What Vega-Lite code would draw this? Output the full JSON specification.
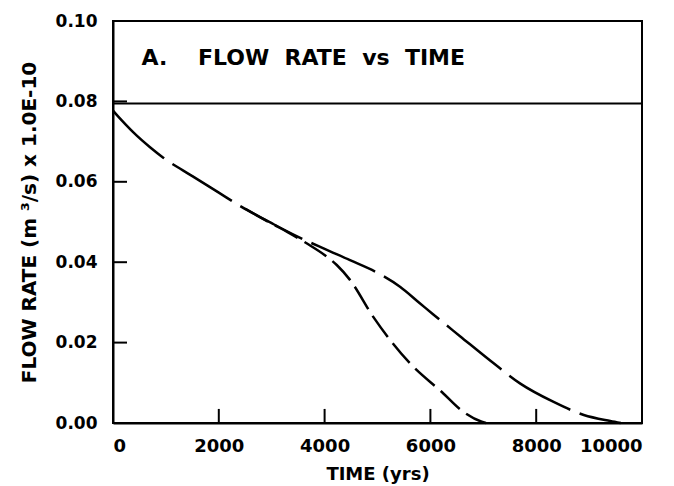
{
  "$schema": "https://vega.github.io/schema/vega-lite/v6.json",
  "autosize": "none",
  "width": 529,
  "height": 402,
  "padding": {"left": 113, "top": 21, "right": 32, "bottom": 63},
  "background": "white",
  "config": {
    "view": {"stroke": "black", "strokeWidth": 2},
    "font": "DejaVu Sans",
    "axis": {
      "domainColor": "black", "domainWidth": 2,
      "ticks": false,
      "labelColor": "black", "labelFont": "DejaVu Sans", "labelFontWeight": "bold",
      "titleColor": "black", "titleFont": "DejaVu Sans", "titleFontWeight": "bold",
      "grid": false
    }
  },
  "datasets": {
    "curves": [
      {"t": 0, "q": 0.0777, "case": "upper"},
      {"t": 100, "q": 0.0762, "case": "upper"},
      {"t": 250, "q": 0.0741, "case": "upper"},
      {"t": 400, "q": 0.0721, "case": "upper"},
      {"t": 700, "q": 0.0686, "case": "upper"},
      {"t": 950, "q": 0.0660, "case": "upper"},
      {"t": 1500, "q": 0.0614, "case": "upper"},
      {"t": 2000, "q": 0.0573, "case": "upper"},
      {"t": 2400, "q": 0.0540, "case": "upper"},
      {"t": 3000, "q": 0.0497, "case": "upper"},
      {"t": 3470, "q": 0.0465, "case": "upper"},
      {"t": 4000, "q": 0.0433, "case": "upper"},
      {"t": 4480, "q": 0.0405, "case": "upper"},
      {"t": 5050, "q": 0.0370, "case": "upper"},
      {"t": 5425, "q": 0.0339, "case": "upper"},
      {"t": 5800, "q": 0.0298, "case": "upper"},
      {"t": 6055, "q": 0.0270, "case": "upper"},
      {"t": 6560, "q": 0.0216, "case": "upper"},
      {"t": 7190, "q": 0.0149, "case": "upper"},
      {"t": 7700, "q": 0.0098, "case": "upper"},
      {"t": 8320, "q": 0.0053, "case": "upper"},
      {"t": 8900, "q": 0.0020, "case": "upper"},
      {"t": 9400, "q": 0.0005, "case": "upper"},
      {"t": 9600, "q": 0.0, "case": "upper"},
      {"t": 2500, "q": 0.0533, "case": "lower"},
      {"t": 3000, "q": 0.0496, "case": "lower"},
      {"t": 3300, "q": 0.0475, "case": "lower"},
      {"t": 3660, "q": 0.0447, "case": "lower"},
      {"t": 4040, "q": 0.0414, "case": "lower"},
      {"t": 4230, "q": 0.0393, "case": "lower"},
      {"t": 4480, "q": 0.0356, "case": "lower"},
      {"t": 4920, "q": 0.0264, "case": "lower"},
      {"t": 5610, "q": 0.0149, "case": "lower"},
      {"t": 6240, "q": 0.0074, "case": "lower"},
      {"t": 6600, "q": 0.0030, "case": "lower"},
      {"t": 6970, "q": 0.0003, "case": "lower"},
      {"t": 7050, "q": 0.0, "case": "lower"}
    ],
    "limit": [{"q": 0.0795}],
    "yticks": [{"q": 0.02, "t0": 0, "t1": 265}, {"q": 0.04, "t0": 0, "t1": 265}, {"q": 0.06, "t0": 0, "t1": 265}, {"q": 0.08, "t0": 0, "t1": 265}],
    "xticks": [{"t": 2000, "q0": 0, "q1": 0.0035}, {"t": 4000, "q0": 0, "q1": 0.0035}, {"t": 6000, "q0": 0, "q1": 0.0035}, {"t": 8000, "q0": 0, "q1": 0.0035}],
    "label": [{"t": 540, "q": 0.0908, "text": "A.\u00a0\u00a0\u00a0 FLOW\u00a0 RATE\u00a0 vs\u00a0 TIME"}]
  },
  "layer": [
    {
      "data": {"name": "curves"},
      "transform": [{"filter": "datum.case === 'upper'"}],
      "mark": {"type": "line", "color": "black", "strokeWidth": 2.5, "strokeDash": [70, 10], "interpolate": "monotone"},
      "encoding": {
        "x": {"field": "t", "type": "quantitative",
          "scale": {"domain": [0, 10000], "nice": false},
          "axis": {"title": "TIME (yrs)", "values": [0, 2000, 4000, 6000, 8000, 10000], "format": "d",
            "labelFontSize": 18, "labelPadding": 14, "titleFontSize": 18, "titlePadding": 10}},
        "y": {"field": "q", "type": "quantitative",
          "scale": {"domain": [0, 0.1], "nice": false},
          "axis": {"title": "FLOW RATE (m ³/s) x 1.0E-10", "values": [0, 0.02, 0.04, 0.06, 0.08, 0.1], "format": ".2f",
            "labelFontSize": 17, "labelPadding": 16, "titleFontSize": 20, "titlePadding": 16}}
      }
    },
    {
      "data": {"name": "curves"},
      "transform": [{"filter": "datum.case === 'lower'"}],
      "mark": {"type": "line", "color": "black", "strokeWidth": 2.5, "strokeDash": [26, 8], "interpolate": "monotone"},
      "encoding": {
        "x": {"field": "t", "type": "quantitative"},
        "y": {"field": "q", "type": "quantitative"}
      }
    },
    {
      "data": {"name": "limit"},
      "mark": {"type": "rule", "color": "black", "strokeWidth": 2},
      "encoding": {"y": {"field": "q", "type": "quantitative"}}
    },
    {
      "data": {"name": "yticks"},
      "mark": {"type": "rule", "color": "black", "strokeWidth": 2},
      "encoding": {
        "x": {"field": "t0", "type": "quantitative"},
        "x2": {"field": "t1"},
        "y": {"field": "q", "type": "quantitative"}
      }
    },
    {
      "data": {"name": "xticks"},
      "mark": {"type": "rule", "color": "black", "strokeWidth": 2},
      "encoding": {
        "x": {"field": "t", "type": "quantitative"},
        "y": {"field": "q0", "type": "quantitative"},
        "y2": {"field": "q1"}
      }
    },
    {
      "data": {"name": "label"},
      "mark": {"type": "text", "align": "left", "baseline": "middle", "fontSize": 22, "fontWeight": "bold", "font": "DejaVu Sans", "color": "black"},
      "encoding": {
        "x": {"field": "t", "type": "quantitative"},
        "y": {"field": "q", "type": "quantitative"},
        "text": {"field": "text"}
      }
    }
  ]
}
